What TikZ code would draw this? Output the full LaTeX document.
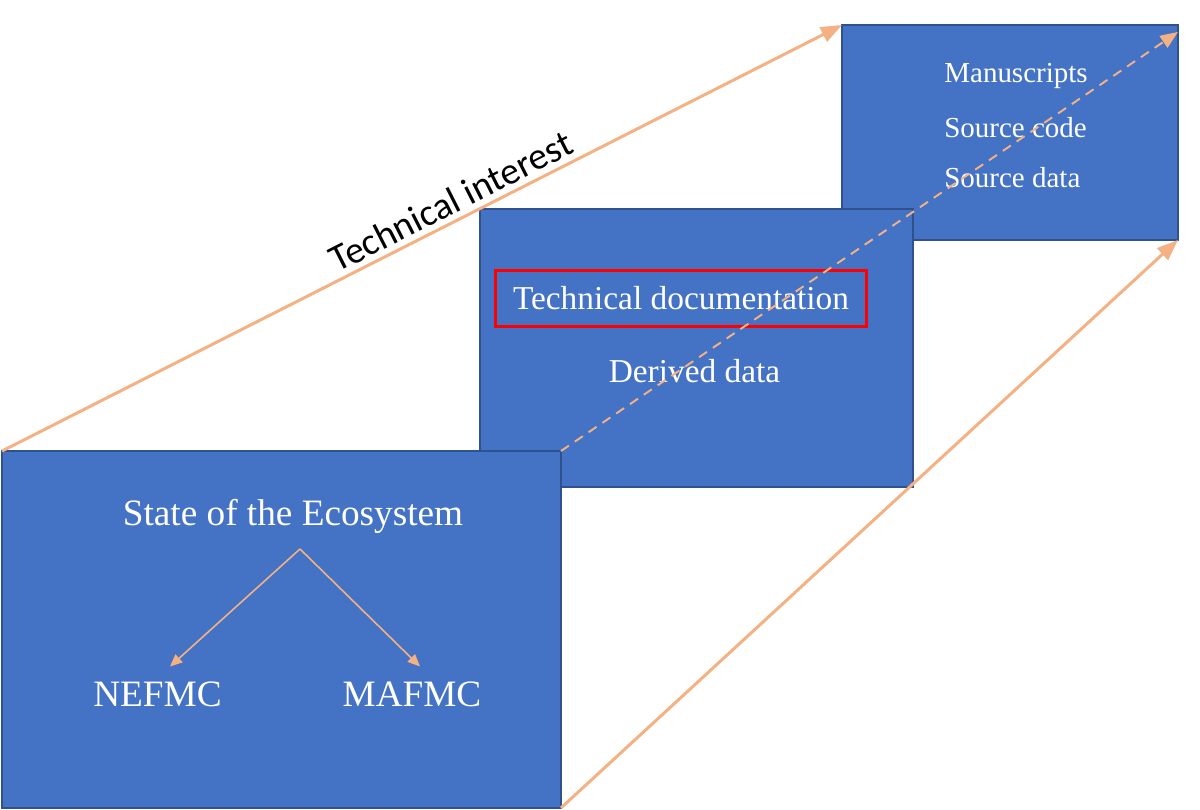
\documentclass[tikz,border=0pt]{standalone}
\usepackage{fontspec}
\setmainfont{Liberation Serif}
\newfontfamily\calibri{Carlito}
\usetikzlibrary{arrows.meta}
\definecolor{boxblue}{HTML}{4472C4}
\definecolor{boxedge}{HTML}{2F528F}
\definecolor{peach}{HTML}{F4B183}

\begin{document}
\begin{tikzpicture}[x=0.02cm,y=0.02cm,
        panel/.style={draw=boxedge,line width=0.8pt,fill=boxblue,inner sep=0pt,outer sep=0pt},
        words/.style={text=white,inner sep=0pt,anchor=base},
        flow/.style={draw=peach,line width=1.7pt,-{Triangle[length=12pt,width=9pt]}},
        hint/.style={draw=peach,line width=1.1pt,dash pattern=on 5.5pt off 4pt,-{Triangle[length=10pt,width=8pt]}},
        twig/.style={draw=peach,line width=0.9pt,-{Triangle[length=7pt,width=6pt]}}]
        \useasboundingbox (0,0) rectangle (1200,810);

        \node[panel,minimum width=6.72cm,minimum height=4.3cm] (src) at (1010,677.5) {};
        \node[panel,minimum width=8.66cm,minimum height=5.56cm] (tech) at (696.5,462) {};
        \node[panel,minimum width=11.18cm,minimum height=7.14cm] (soe) at (281.5,180.5) {};

        \node[words,anchor=base west,font=\fontsize{16.5}{19}\selectfont] (man) at (944,727) {Manuscripts};
        \node[words,anchor=base west,font=\fontsize{16.5}{19}\selectfont] (code) at (944,672) {Source code};
        \node[words,anchor=base west,font=\fontsize{16.5}{19}\selectfont] (raw) at (944,622) {Source data};

        \node[text=white,draw=red,line width=1.7pt,minimum width=7.42cm,minimum height=1.12cm,
              font=\fontsize{19}{22}\selectfont] (doc) at (681,511.5) {Technical documentation\hspace{6pt}};
        \node[words,font=\fontsize{19}{22}\selectfont] (derived) at (694.5,427) {Derived data};

        \node[words,font=\fontsize{21.2}{25}\selectfont] (title) at (293,284) {State of the Ecosystem};
        \node[words,inner ysep=8.8pt,font=\fontsize{21.2}{25}\selectfont] (nefmc) at (157.5,103) {NEFMC};
        \node[words,inner ysep=8.8pt,font=\fontsize{21.2}{25}\selectfont] (mafmc) at (412,103) {MAFMC};
        \coordinate (fork) at (300,261);

        \draw[twig] (fork) -- ([xshift=0.25cm]nefmc.north);
        \draw[twig] (fork) -- ([xshift=0.16cm]mafmc.north);

        \draw[flow] (soe.north west) -- node[sloped,above,pos=0.545,inner sep=3pt,text=black,
              font=\calibri\fontsize{21.5}{25}\selectfont] {Technical interest} (src.north west);
        \draw[flow] (soe.south east) -- (src.south east);
        \draw[hint] (soe.north east) -- ([yshift=-0.14cm]src.north east);
\end{tikzpicture}
\end{document}
